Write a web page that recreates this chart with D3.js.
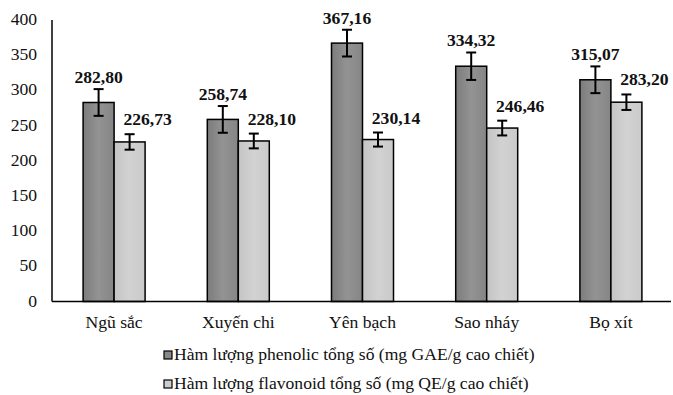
<!DOCTYPE html>
<html lang="vi"><head><meta charset="utf-8">
<script src="https://cdn.jsdelivr.net/npm/d3@7"></script>
<style>body{margin:0;background:#fff}svg{display:block}svg text{font-family:"Liberation Serif", "Times New Roman", Times, serif !important}</style>
</head><body><svg id="c" width="673" height="395" font-family="Liberation Serif"></svg>
<script>
const categories = ["Ngũ sắc","Xuyến chi","Yên bạch","Sao nháy","Bọ xít"];
const phenolic = [282.80, 258.74, 367.16, 334.32, 315.07];
const phenolicErr = [19, 19, 19, 19.5, 19];
const flavonoid = [226.73, 228.10, 230.14, 246.46, 283.20];
const flavonoidErr = [11, 10.5, 10, 10.5, 11];
const seriesNames = ["Hàm lượng phenolic tổng số (mg GAE/g cao chiết)","Hàm lượng flavonoid tổng số (mg QE/g cao chiết)"];
const yTicks = [0,50,100,150,200,250,300,350,400];

const svg = d3.select("#c");
const defs = svg.append("defs");
function grad(id, a, b, c) {
  const g = defs.append("linearGradient").attr("id", id).attr("x1","0").attr("x2","1").attr("y1","0").attr("y2","0");
  g.append("stop").attr("offset","0").attr("stop-color",a);
  g.append("stop").attr("offset","0.5").attr("stop-color",b);
  g.append("stop").attr("offset","1").attr("stop-color",c);
}
grad("gd", "#7c7c7c", "#939393", "#858585");
grad("gl", "#c4c4c4", "#d2d2d2", "#cacaca");

const x0 = d3.scaleBand().domain(categories).range([52, 673]).padding(0);
const y = d3.scaleLinear().domain([0,400]).range([301.5, 20]);
const barW = 31;
const SX = 1.1;

const marks = svg.append("g");
const texts = svg.append("g").attr("font-family", "Liberation Serif");

function txt(x, yy, s, opts) {
  const t = texts.append("text")
    .attr("transform", `translate(${x},${yy}) scale(${SX},1)`)
    .attr("font-family", "Liberation Serif")
    .attr("font-size", opts.size || 16)
    .attr("text-anchor", opts.anchor || "middle")
    .attr("fill", "#111")
    .text(s);
  if (opts.bold) t.attr("font-weight", "bold");
  return t;
}

// bars
const series = [
  {vals: phenolic, err: phenolicErr, fill: "url(#gd)", off: -barW, labOff: 0, gap: 6},
  {vals: flavonoid, err: flavonoidErr, fill: "url(#gl)", off: 0, labOff: 18, gap: 9}
];
const fmt = v => v.toFixed(2).replace(".", ",");
series.forEach(s => {
  categories.forEach((c, i) => {
    const cx = x0(c) + x0.bandwidth() / 2;
    const left = cx + s.off;
    const v = s.vals[i];
    marks.append("rect").attr("x", left).attr("y", y(v)).attr("width", barW)
      .attr("height", y(0) - y(v)).attr("fill", s.fill).attr("stroke", "#000").attr("stroke-width", 1.5);
    const mid = left + barW / 2;
    const e = s.err[i];
    const eg = marks.append("g").attr("stroke", "#000").attr("stroke-width", 2);
    eg.append("line").attr("x1", mid).attr("x2", mid).attr("y1", y(v + e)).attr("y2", y(v - e));
    eg.append("line").attr("x1", mid - 5).attr("x2", mid + 5).attr("y1", y(v + e)).attr("y2", y(v + e));
    eg.append("line").attr("x1", mid - 5).attr("x2", mid + 5).attr("y1", y(v - e)).attr("y2", y(v - e));
  });
});

// axes lines
marks.append("line").attr("x1", 52).attr("x2", 52).attr("y1", 20).attr("y2", 301.5).attr("stroke", "#000").attr("stroke-width", 1.5);
marks.append("line").attr("x1", 52).attr("x2", 671).attr("y1", 301.5).attr("y2", 301.5).attr("stroke", "#000").attr("stroke-width", 1.5);

// y tick labels
yTicks.forEach(v => txt(37, y(v) + 5, String(v), {size: 16, anchor: "end"}));

// value labels
series.forEach(s => {
  categories.forEach((c, i) => {
    const cx = x0(c) + x0.bandwidth() / 2;
    const mid = cx + s.off + barW / 2;
    const v = s.vals[i], e = s.err[i];
    txt(mid + s.labOff, y(v + e) - s.gap, fmt(v), {size: 16, bold: true});
  });
});

// category labels
categories.forEach(c => txt(x0(c) + x0.bandwidth() / 2, 328, c, {size: 16}));

// legend
const legFills = ["#888", "#cdcdcd"];
seriesNames.forEach((n, i) => {
  const ly = 360 + i * 29;
  marks.append("rect").attr("x", 164).attr("y", ly - 9).attr("width", 8).attr("height", 8)
    .attr("fill", legFills[i]).attr("stroke", "#000").attr("stroke-width", 1.2);
  txt(174, ly, n, {size: 16, anchor: "start"});
});
</script></body></html>
